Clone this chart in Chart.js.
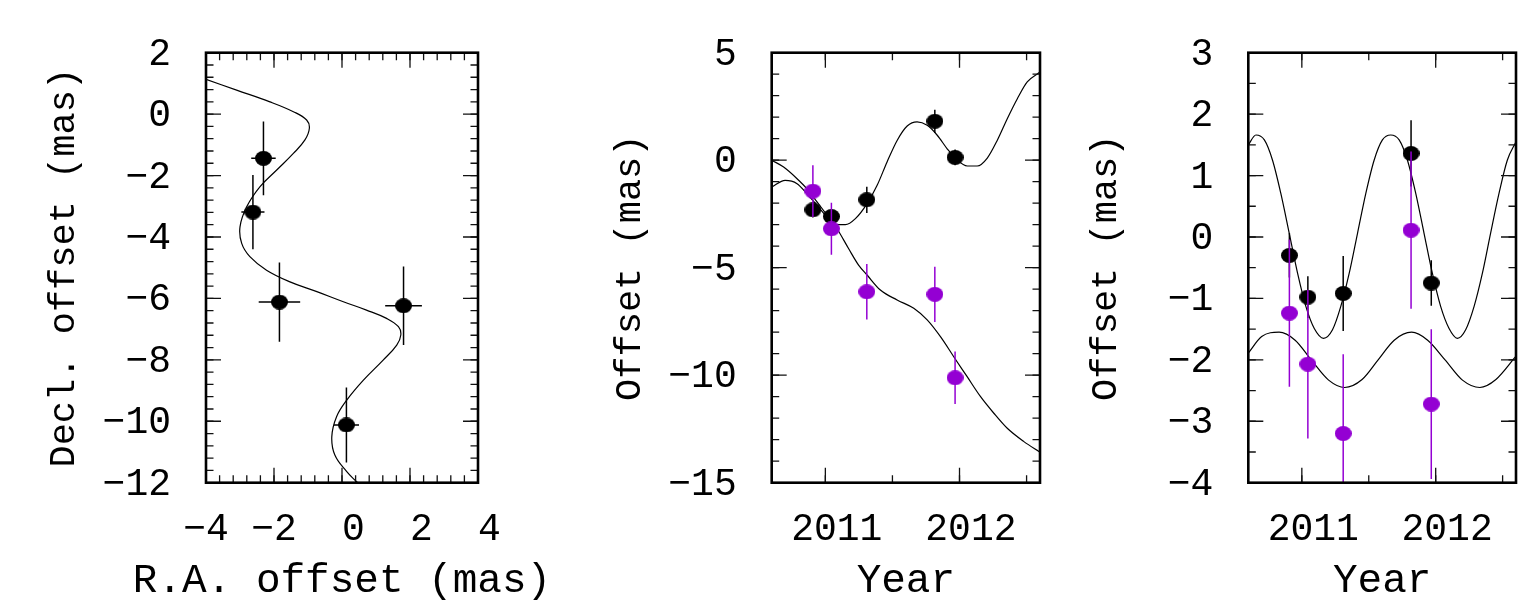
<!DOCTYPE html>
<html>
<head>
<meta charset="utf-8">
<script src="https://cdn.jsdelivr.net/npm/chart.js@4.4.1/dist/chart.umd.min.js"></script>
<style>
  body { margin: 0; background: #fff; }
  canvas { position: absolute; top: 0; }
</style>
</head>
<body>
<canvas id="sky" width="560" height="600" style="left:0px"></canvas>
<canvas id="offsets" width="515" height="600" style="left:560px"></canvas>
<canvas id="orbit" width="444" height="600" style="left:1075px"></canvas>
<script>
// observations (5 epochs)
const epochs = [2010.907, 2011.045, 2011.309, 2011.816, 2011.967];
const raOffset = [-2.31, -2.62, -1.84, 1.81, 0.13];
const decOffset = [-1.44, -3.19, -6.12, -6.24, -10.12];
const raError = [0.36, 0.34, 0.61, 0.54, 0.37];
const decError = [1.2, 1.21, 1.29, 1.28, 1.22];
const raResidual = [-0.30, -0.98, -0.92, 1.36, -0.75];
const decResidual = [-1.24, -2.07, -3.20, 0.11, -2.72];

// model path on the sky
const skyRA = [-4.0, -3.10, -2.12, -1.43, -1.04, -0.96, -1.09, -1.43, -1.92, -2.41, -2.80, -3.00, -2.95,
  -2.71, -2.22, -1.53, -0.74, 0.04, 0.72, 1.31, 1.66, 1.73, 1.61, 1.21, 0.63, 0.14, -0.16, -0.30, -0.21,
  0.14, 0.43, 0.60];
const skyDec = [1.13, 0.78, 0.40, 0.08, -0.19, -0.46, -0.84, -1.28, -1.82, -2.36, -3.01, -3.67, -4.21,
  -4.64, -5.08, -5.46, -5.78, -6.11, -6.38, -6.65, -6.92, -7.19, -7.52, -8.01, -8.66, -9.31, -9.85, -10.50,
  -11.10, -11.64, -11.97, -12.15];

// model offsets vs time
const raModelYear = [2010.6, 2010.70, 2010.789, 2010.863, 2010.938, 2011.013, 2011.087, 2011.149, 2011.224,
  2011.311, 2011.386, 2011.46, 2011.535, 2011.61, 2011.684, 2011.759, 2011.834, 2011.908, 2011.983,
  2012.058, 2012.132, 2012.207, 2012.281, 2012.356, 2012.431, 2012.505, 2012.6];
const raModel = [-1.25, -0.94, -1.09, -1.56, -2.10, -2.64, -3.0, -3.0, -2.72, -2.02, -1.17, -0.08, 0.92,
  1.59, 1.78, 1.62, 1.16, 0.53, 0.0, -0.27, -0.27, 0.10, 0.92, 1.93, 2.86, 3.64, 4.10];
const decModelYear = [2010.6, 2010.689, 2010.789, 2010.863, 2010.938, 2011.013, 2011.087, 2011.174, 2011.249,
  2011.311, 2011.41, 2011.535, 2011.659, 2011.759, 2011.858, 2011.957, 2012.057, 2012.157, 2012.256,
  2012.356, 2012.48, 2012.6];
const decModel = [0.0, -0.32, -0.86, -1.33, -1.94, -2.56, -3.19, -4.12, -4.89, -5.34, -6.04, -6.50, -6.89,
  -7.43, -8.21, -9.14, -10.07, -11.0, -11.77, -12.47, -13.09, -13.58];

// orbital motion vs time
const orbitRAYear = [2010.6, 2010.657, 2010.72, 2010.781, 2010.843, 2010.906, 2010.968, 2011.03, 2011.093,
  2011.162, 2011.229, 2011.291, 2011.354, 2011.416, 2011.478, 2011.54, 2011.602, 2011.664, 2011.727,
  2011.789, 2011.851, 2011.913, 2011.975, 2012.037, 2012.1, 2012.162, 2012.224, 2012.287, 2012.349,
  2012.41, 2012.473, 2012.535, 2012.6];
const orbitRA = [1.50, 1.66, 1.58, 1.25, 0.71, 0.06, -0.59, -1.13, -1.49, -1.65, -1.51, -1.13, -0.59, 0.06,
  0.71, 1.25, 1.58, 1.66, 1.58, 1.25, 0.71, 0.06, -0.59, -1.13, -1.49, -1.65, -1.51, -1.13, -0.59, 0.06,
  0.71, 1.25, 1.55];
const orbitDecYear = [2010.6, 2010.70, 2010.83, 2010.95, 2011.07, 2011.20, 2011.32, 2011.45, 2011.57,
  2011.69, 2011.82, 2011.94, 2012.07, 2012.20, 2012.33, 2012.45, 2012.6];
const orbitDec = [-1.89, -1.62, -1.55, -1.68, -2.00, -2.33, -2.45, -2.32, -2.00, -1.68, -1.55, -1.68, -2.00,
  -2.33, -2.45, -2.32, -1.94];

// tick labels
const raTicks = [-4, -2, 0, 2, 4];
const decTicks = [-12, -10, -8, -6, -4, -2, 0, 2];
const yearTicks = [2011, 2012];
const offsetTicks = [-15, -10, -5, 0, 5];
const orbitTicks = [-4, -3, -2, -1, 0, 1, 2, 3];

const PURPLE = '#9400d3';
const FONT = 'Liberation Mono, DejaVu Sans Mono, monospace';
const TOP = 52.7, BOTTOM = 482.7;

function dot(color) {
  const c = document.createElement('canvas');
  c.width = 17; c.height = 15;
  const g = c.getContext('2d');
  g.fillStyle = color;
  g.beginPath();
  g.ellipse(8.5, 7.5, 8.5, 7.5, 0, 0, Math.PI * 2);
  g.fill();
  return c;
}

function pairs(xs, ys) {
  return xs.map((x, i) => ({ x: x, y: ys[i] }));
}

// gnuplot-ish labels: real minus sign, a leading blank for positives
function num(v) {
  return v < 0 ? '\u2212' + Math.abs(v) : ' ' + v;
}

// error bars, drawn just under the markers of their dataset
const errorBars = {
  id: 'errorBars',
  beforeDatasetDraw(chart, args) {
    const ds = chart.data.datasets[args.index];
    if (!ds.errY && !ds.errX) return;
    const { ctx, chartArea: a } = chart;
    const x = chart.scales.x, y = chart.scales.y;
    ctx.save();
    ctx.beginPath();
    ctx.rect(a.left, a.top, a.right - a.left, a.bottom - a.top);
    ctx.clip();
    ctx.strokeStyle = ds.barColor;
    ctx.lineWidth = 1.5;
    ds.data.forEach((p, i) => {
      const px = x.getPixelForValue(p.x), py = y.getPixelForValue(p.y);
      ctx.beginPath();
      if (ds.errY) {
        ctx.moveTo(px, y.getPixelForValue(p.y - ds.errY[i]));
        ctx.lineTo(px, y.getPixelForValue(p.y + ds.errY[i]));
      }
      if (ds.errX) {
        ctx.moveTo(x.getPixelForValue(p.x - ds.errX[i]), py);
        ctx.lineTo(x.getPixelForValue(p.x + ds.errX[i]), py);
      }
      ctx.stroke();
    });
    ctx.restore();
  }
};

// inward tick marks on all four sides, the box, and the x title
function frame(xMajor, xMinor, yMajor, yMinor, xTitle) {
  return {
    id: 'frame',
    afterDatasetsDraw(chart) {
      const { ctx, chartArea: a } = chart;
      const x = chart.scales.x, y = chart.scales.y;
      ctx.save();
      ctx.strokeStyle = '#111';
      ctx.lineWidth = 1.3;
      const marks = (scale, step, len) => {
        for (let k = Math.ceil(scale.min / step - 1e-6); k * step <= scale.max + 1e-6; k++) {
          const p = scale.getPixelForValue(k * step);
          ctx.beginPath();
          if (scale === x) {
            ctx.moveTo(p, a.bottom); ctx.lineTo(p, a.bottom - len);
            ctx.moveTo(p, a.top); ctx.lineTo(p, a.top + len);
          } else {
            ctx.moveTo(a.left, p); ctx.lineTo(a.left + len, p);
            ctx.moveTo(a.right, p); ctx.lineTo(a.right - len, p);
          }
          ctx.stroke();
        }
      };
      marks(x, xMinor, 7.5);
      marks(x, xMajor, 15);
      marks(y, yMinor, 7.5);
      marks(y, yMajor, 15);
      ctx.lineWidth = 2.6;
      ctx.strokeStyle = '#000';
      ctx.strokeRect(a.left, a.top, a.right - a.left, a.bottom - a.top);

      ctx.fillStyle = '#000';
      ctx.font = '41px ' + FONT;
      ctx.textAlign = 'center';
      ctx.textBaseline = 'middle';
      ctx.fillText(xTitle, (a.left + a.right) / 2, 581);
      ctx.restore();
    }
  };
}

function axis(min, max, values, label, padding) {
  return {
    min: min, max: max,
    grid: { display: false },
    border: { display: false },
    afterBuildTicks: s => { s.ticks = values.map(v => ({ value: v })); },
    ticks: {
      color: '#000', font: { family: FONT, size: 38 }, padding: padding,
      autoSkip: false, maxRotation: 0, callback: label
    }
  };
}

function panel(id, left, right, xAxis, yAxis, yTitle, xTitle, datasets, ticks) {
  const canvas = document.getElementById(id);
  xAxis.afterFit = s => { s.height = 600 - BOTTOM; };
  yAxis.afterFit = s => { s.width = left; };
  yAxis.ticks.labelOffset = 2;
  yAxis.title = {
    display: true, text: yTitle, color: '#000', padding: left - 160.4,
    font: { family: FONT, size: 37, lineHeight: 1 }
  };
  return new Chart(canvas, {
    type: 'scatter',
    data: { datasets: datasets },
    options: {
      responsive: false,
      animation: false,
      events: [],
      layout: {
        autoPadding: false,
        padding: { left: 0, top: TOP, right: canvas.width - right, bottom: 0 }
      },
      plugins: { legend: { display: false }, tooltip: { enabled: false } },
      scales: { x: xAxis, y: yAxis }
    },
    plugins: [errorBars, frame(ticks[0], ticks[1], ticks[2], ticks[3], xTitle)]
  });
}

const blackDot = dot('#000');
const purpleDot = dot(PURPLE);
const yLabel = v => num(v).trim();

// left: path on the sky
panel('sky', 206, 478,
  axis(-4, 4, raTicks, num, 16),
  axis(-12, 2, decTicks, yLabel, 27),
  'Decl. offset (mas)', 'R.A. offset (mas)',
  [
    { data: pairs(raOffset, decOffset), pointStyle: blackDot, pointRadius: 8,
      errX: raError, errY: decError, barColor: '#000', order: 1 },
    { data: pairs(skyRA, skyDec), showLine: true, pointRadius: 0, borderColor: '#000',
      borderWidth: 1.2, tension: 0.4, order: 3 }
  ],
  [2, 0.4, 2, 0.4]);

// middle: offsets vs time
panel('offsets', 771.7 - 560, 1040 - 560,
  axis(2010.6, 2012.6, yearTicks, num, 16),
  axis(-15, 5, offsetTicks, yLabel, 27),
  'Offset (mas)', 'Year',
  [
    { data: pairs(epochs, decOffset), pointStyle: purpleDot, pointRadius: 8,
      errY: decError, barColor: PURPLE, order: 1 },
    { data: pairs(epochs, raOffset), pointStyle: blackDot, pointRadius: 8,
      errY: raError, barColor: '#000', order: 2 },
    { data: pairs(raModelYear, raModel), showLine: true, pointRadius: 0, borderColor: '#000',
      borderWidth: 1.2, cubicInterpolationMode: 'monotone', order: 3 },
    { data: pairs(decModelYear, decModel), showLine: true, pointRadius: 0, borderColor: '#000',
      borderWidth: 1.2, cubicInterpolationMode: 'monotone', order: 3 }
  ],
  [1, 0.5, 5, 1]);

// right: orbital motion vs time
panel('orbit', 1248.3 - 1075, 1516 - 1075,
  axis(2010.6, 2012.6, yearTicks, num, 16),
  axis(-4, 3, orbitTicks, yLabel, 27),
  'Offset (mas)', 'Year',
  [
    { data: pairs(epochs, decResidual), pointStyle: purpleDot, pointRadius: 8,
      errY: decError, barColor: PURPLE, order: 1 },
    { data: pairs(epochs, raResidual), pointStyle: blackDot, pointRadius: 8,
      errY: raError, barColor: '#000', order: 2 },
    { data: pairs(orbitRAYear, orbitRA), showLine: true, pointRadius: 0, borderColor: '#000',
      borderWidth: 1.2, cubicInterpolationMode: 'monotone', order: 3 },
    { data: pairs(orbitDecYear, orbitDec), showLine: true, pointRadius: 0, borderColor: '#000',
      borderWidth: 1.2, cubicInterpolationMode: 'monotone', order: 3 }
  ],
  [1, 0.5, 1, 0.5]);
</script>
</body>
</html>
